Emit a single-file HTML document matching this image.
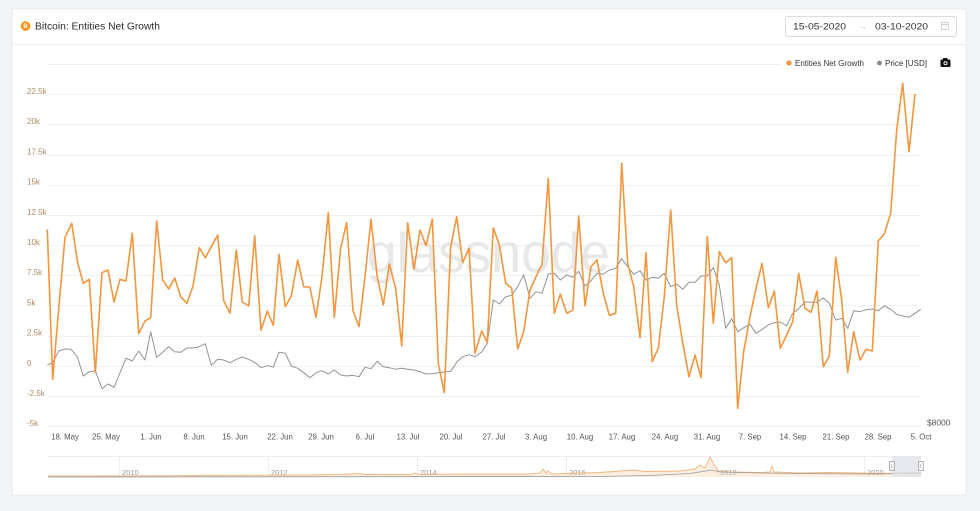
<!DOCTYPE html>
<html><head><meta charset="utf-8">
<style>
html,body{margin:0;padding:0;background:#f3f4f6;}
svg{display:block;font-family:"Liberation Sans",Arial,sans-serif;}
</style></head>
<body>
<svg width="980" height="511" viewBox="0 0 980 511" xmlns="http://www.w3.org/2000/svg">
<rect x="0" y="0" width="980" height="511" fill="#f3f4f6"/>
<rect x="12" y="9" width="954" height="486" fill="#ffffff" stroke="#e7e9ec" stroke-width="1"/>
<line x1="12" y1="44.5" x2="966" y2="44.5" stroke="#eef0f2" stroke-width="1"/>

<!-- title -->
<circle cx="25.5" cy="26" r="4.8" fill="#f7931a"/>
<text x="25.5" y="28.2" font-size="6" fill="#fff" text-anchor="middle" font-weight="bold">B</text>
<text x="35" y="29.6" font-size="10.3" fill="#2b2b2b" textLength="125" lengthAdjust="spacingAndGlyphs">Bitcoin: Entities Net Growth</text>

<!-- date box -->
<rect x="785.5" y="16.5" width="171" height="20" rx="2" fill="#fff" stroke="#dcdcdc"/>
<text x="793" y="29.5" font-size="9.6" fill="#333" textLength="53" lengthAdjust="spacingAndGlyphs">15-05-2020</text>
<text x="863" y="29" font-size="8" fill="#bbb" text-anchor="middle">→</text>
<text x="875" y="29.5" font-size="9.6" fill="#333" textLength="53" lengthAdjust="spacingAndGlyphs">03-10-2020</text>
<rect x="941.5" y="22.5" width="7" height="7" fill="none" stroke="#c8c8c8" stroke-width="0.8"/>
<line x1="941.5" y1="24.5" x2="948.5" y2="24.5" stroke="#c8c8c8" stroke-width="0.8"/>

<!-- gridlines -->
<g stroke="#f0f0f0" stroke-width="1">
<line x1="48" y1="64.5" x2="920" y2="64.5"/>
<line x1="48" y1="94.5" x2="920" y2="94.5"/>
<line x1="48" y1="124.5" x2="920" y2="124.5"/>
<line x1="48" y1="155.5" x2="920" y2="155.5"/>
<line x1="48" y1="185.5" x2="920" y2="185.5"/>
<line x1="48" y1="215.5" x2="920" y2="215.5"/>
<line x1="48" y1="245.5" x2="920" y2="245.5"/>
<line x1="48" y1="275.5" x2="920" y2="275.5"/>
<line x1="48" y1="305.5" x2="920" y2="305.5"/>
<line x1="48" y1="336.5" x2="920" y2="336.5"/>
<line x1="48" y1="366.5" x2="920" y2="366.5"/>
<line x1="48" y1="396.5" x2="920" y2="396.5"/>
<line x1="48" y1="426.5" x2="920" y2="426.5"/>
</g>

<!-- legend -->
<rect x="782" y="56" width="172" height="14" fill="#ffffff"/>
<circle cx="789" cy="63" r="2.6" fill="#f4963e"/>
<text x="795" y="65.8" font-size="8" fill="#333" textLength="69" lengthAdjust="spacingAndGlyphs">Entities Net Growth</text>
<circle cx="879.5" cy="63" r="2.4" fill="#888"/>
<text x="885" y="65.8" font-size="8" fill="#333" textLength="42" lengthAdjust="spacingAndGlyphs">Price [USD]</text>
<rect x="940.5" y="59.5" width="10" height="7.5" rx="1" fill="#111"/>
<rect x="943" y="58" width="4.5" height="2" fill="#111"/>
<circle cx="945.5" cy="63.3" r="2" fill="#fff"/>
<circle cx="945.5" cy="63.3" r="1.1" fill="#111"/>

<!-- y labels -->
<g font-size="8" fill="#b08a63">
<text x="27" y="94">22.5k</text>
<text x="27" y="124.2">20k</text>
<text x="27" y="154.4">17.5k</text>
<text x="27" y="184.6">15k</text>
<text x="27" y="214.8">12.5k</text>
<text x="27" y="245">10k</text>
<text x="27" y="275.2">7.5k</text>
<text x="27" y="305.4">5k</text>
<text x="27" y="335.6">2.5k</text>
<text x="27" y="365.8">0</text>
<text x="27" y="396">-2.5k</text>
<text x="27" y="426.2">-5k</text>
</g>
<text x="927" y="425.6" font-size="8.4" fill="#555">$8000</text>

<!-- watermark -->
<text x="367" y="272" font-size="56" fill="#e8e8e8" textLength="243" lengthAdjust="spacingAndGlyphs">glassnode</text>

<!-- x labels -->
<g font-size="7.8" fill="#555" text-anchor="middle">
<text x="65" y="439.5">18. May</text>
<text x="106" y="439.5">25. May</text>
<text x="151" y="439.5">1. Jun</text>
<text x="194" y="439.5">8. Jun</text>
<text x="235" y="439.5">15. Jun</text>
<text x="280" y="439.5">22. Jun</text>
<text x="321" y="439.5">29. Jun</text>
<text x="365" y="439.5">6. Jul</text>
<text x="408" y="439.5">13. Jul</text>
<text x="451" y="439.5">20. Jul</text>
<text x="494" y="439.5">27. Jul</text>
<text x="536" y="439.5">3. Aug</text>
<text x="580" y="439.5">10. Aug</text>
<text x="622" y="439.5">17. Aug</text>
<text x="665" y="439.5">24. Aug</text>
<text x="707" y="439.5">31. Aug</text>
<text x="750" y="439.5">7. Sep</text>
<text x="793" y="439.5">14. Sep</text>
<text x="836" y="439.5">21. Sep</text>
<text x="878" y="439.5">28. Sep</text>
<text x="921" y="439.5">5. Oct</text>
</g>

<!-- price series -->
<polyline fill="none" stroke="#8f9399" stroke-width="1" stroke-linejoin="round" points="47.3,365 52.7,362.7 58.7,351 65,349 71,349.3 77.3,356.7 83.3,376 89.3,371.7 95.3,370.7 102,388.7 108,384 114,387.3 120,372.7 126,358.3 132.3,361 138.7,351 145,360 150.7,332 156.7,357.3 162.7,352.3 168.7,346.7 174.7,351.7 180.7,352.3 187,348 193,348 199.3,346.7 205.3,343.7 211.3,365.3 217.7,359.3 223.7,360 230,362.7 236.3,359.3 242.3,357 248.7,359.3 254.7,362.3 261,367.7 267.3,365.7 273.3,367 279,352.3 285.3,353.3 291.3,366 297.7,368.3 303.7,372.7 310,377.7 316,372.7 322,370.7 328.3,374 334.3,370 340.7,375 346.7,376 353,375.3 359,376.7 365,367.3 371,368.7 377.3,361.3 383.3,366.7 389.3,367.7 395.7,369.3 401.7,368.3 407.7,369.3 414,370 420,371.7 426,374 432.3,373.7 438.3,372.7 444.3,372 450.7,371.3 456.7,362.3 462.7,356.7 469,354.7 475,356.7 481.7,352 487.3,343.3 493.3,300 499.3,304 505.7,296.7 511.7,295.3 517.7,286.7 523.7,274.7 530,298.3 536,291.7 542,293.3 548.3,274 554.3,273.3 560.3,280 566.7,275 572.7,277.3 578.7,271.3 585,286 591,280.7 597,273.3 603.3,274 609.3,270 615.7,268.3 621.7,258.7 627.7,266.7 633.7,274.3 640,270.7 646,280 652.3,277.3 658.3,278.3 664.3,273.3 670.7,286.7 676.7,284 682.7,289.3 689,282.3 695,282.3 701,276 707.3,276 713.3,267.7 719.3,285 725.7,328.3 731.7,318.7 737.7,331.7 743.7,327.7 750,324.3 756,333.3 762,329.3 768.3,325 774.3,322.7 780.3,322 786.7,326 792.7,313.3 798.7,308.7 805,302 811,302.3 817,302.3 823.3,298 829.3,303.3 835.7,320 841.7,318.3 847.7,328.3 853.7,310.7 860,311.7 866,309.7 872.3,309 878.3,310.7 884.3,306 890.7,309.3 896.7,314.3 902.7,316 909,317.3 915,313.3 920.7,309.3"/>

<!-- entities series -->
<polyline fill="none" stroke="#f4963e" stroke-width="1.6" stroke-linejoin="round" points="47.3,229.3 52.7,379.3 58.8,308 65,237.3 71.7,223.3 77.7,263 83.3,283.3 89.3,279.3 95.3,372.7 102,272.7 108,270 114,302 120,279.3 126,281 132.3,233.3 138.7,333.7 145,321 150.7,317.7 156.7,221 162.7,280 168.7,289 174.7,278 180.7,296.7 187,303.3 193,286 199.3,247.7 205.3,257.7 211.3,246.7 217.7,235 223.7,300.7 230,313.3 236.3,250 242.3,302 248.7,306 254.7,235.7 261,330.3 267.3,311 273.3,325.3 279,254.3 285.3,306.7 291.3,296 297.7,260 303.7,286.7 310,287.3 316,317.3 322,276.7 328.3,212.7 334.3,317.3 340.7,247.7 346.7,222.7 353,310.7 359,326.7 365,276.7 371,219.3 377.3,277.3 383.3,305 389.3,264 395.7,288.3 401.7,346 407.7,222.7 414,269.3 420,230 426,245.7 432.3,219 438.3,363.3 444.3,392.7 450.7,246.7 456.7,216.7 462.7,262.7 469,248.3 475,353.3 481.7,331 487.3,342.7 493.3,227.7 499.3,245 505.7,283.3 511.7,288.3 517.7,349 523.7,331.7 530,290 536,276.7 542,264.3 548.3,178.3 554.3,313.3 560.3,294 566.7,313.3 572.7,310.3 578.7,216 585,306 591,266.7 597,260 603.3,293.3 609.3,315.3 615.7,313.3 621.7,163.3 627.7,263.3 633.7,286.7 640,337.7 646,252.7 652.3,361.7 658.3,348.3 664.3,296.7 670.7,210 676.7,305 682.7,342.7 689,376.7 695,355 701,377.7 707.3,236.3 713.3,323.3 719.3,251.7 725.7,262.7 731.7,257.7 737.7,408.3 743.7,351.7 750,316.7 756,288.3 762,263.3 768.3,307.7 774.3,291 780.3,348.3 786.7,335 792.7,321.7 798.7,273.3 805,308.3 811,312.3 817,291 823.3,366.7 829.3,356 835.7,257.3 841.7,300 847.7,372.3 853.7,331.7 860,360 866,349.3 872.3,351 878.3,240.7 884.3,234 890.7,213.3 896.7,130 902.7,83.3 909,151.7 915,94"/>

<!-- navigator -->
<line x1="48" y1="456.5" x2="921" y2="456.5" stroke="#eeeeee"/>
<g stroke="#eeeeee" stroke-width="1">
<line x1="119.5" y1="456" x2="119.5" y2="477"/>
<line x1="268.5" y1="456" x2="268.5" y2="477"/>
<line x1="417.5" y1="456" x2="417.5" y2="477"/>
<line x1="566.5" y1="456" x2="566.5" y2="477"/>
<line x1="717.5" y1="456" x2="717.5" y2="477"/>
<line x1="864.5" y1="456" x2="864.5" y2="477"/>
</g>
<g font-size="7.5" fill="#9a9a9a">
<text x="122" y="475">2010</text>
<text x="271" y="475">2012</text>
<text x="420" y="475">2014</text>
<text x="569" y="475">2016</text>
<text x="720" y="475">2018</text>
<text x="867" y="475">2020</text>
</g>
<polygon fill="#f8dcbc" fill-opacity="0.45" stroke="none" points="48,477 48,476 119,476 200,475.5 300,475 340,474.5 360,473.5 365,474.5 410,474.5 415,473 420,474.5 460,474 530,474 540,473 543,469 546,473 548,471 552,474 566,473.5 600,472.5 620,471 633,470 645,471.5 680,471 695,469 700,465 705,468 710,457 715,466 718,471 730,472 760,472.5 770,472 772,466 774,472 800,473 830,472.5 860,473 880,473.5 900,473 921,472.5 921,477"/>
<polyline fill="none" stroke="#efb77e" stroke-width="0.9" points="48,476 119,476 200,475.5 300,475 340,474.5 360,473.5 365,474.5 410,474.5 415,473 420,474.5 460,474 530,474 540,473 543,469 546,473 548,471 552,474 566,473.5 600,472.5 620,471 633,470 645,471.5 680,471 695,469 700,465 705,468 710,457 715,466 718,471 730,472 760,472.5 770,472 772,466 774,472 800,473 830,472.5 860,473 880,473.5 900,473 921,472.5"/>
<polyline fill="none" stroke="#9a9a9a" stroke-width="0.8" points="48,477 600,476.5 650,475.5 690,473.5 712,470 720,472 760,473 800,473.5 860,474 921,473.5"/>
<rect x="892" y="456" width="29" height="21" fill="#dfe2e8" fill-opacity="0.75"/>
<rect x="889.5" y="461.5" width="5" height="9" fill="#f6f6f6" stroke="#999" stroke-width="0.7"/>
<line x1="891.5" y1="464" x2="891.5" y2="468" stroke="#999" stroke-width="0.5"/>
<rect x="918.5" y="461.5" width="5" height="9" fill="#f6f6f6" stroke="#999" stroke-width="0.7"/>
<line x1="920.5" y1="464" x2="920.5" y2="468" stroke="#999" stroke-width="0.5"/>
</svg>
</body></html>
